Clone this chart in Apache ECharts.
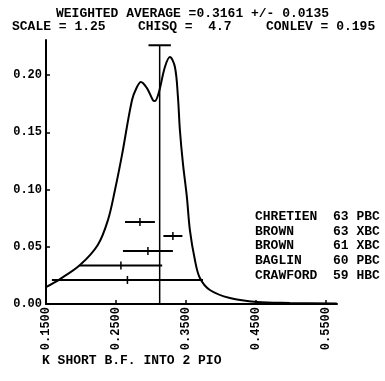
<!DOCTYPE html>
<html>
<head>
<meta charset="utf-8">
<script src="https://cdn.jsdelivr.net/npm/echarts@6/dist/echarts.min.js"></script>
<style>
  html, body { margin: 0; padding: 0; background: #fff; }
  #chart { width: 385px; height: 381px; }
</style>
</head>
<body>
<div id="chart"></div>
<script>
// ideogram curve: [branching fraction, density]
const ideogram = [
  [0.150, 0.0148], [0.170, 0.0218], [0.1986, 0.034], [0.224, 0.0515],
  [0.2386, 0.0734], [0.2486, 0.0996], [0.2586, 0.130], [0.2729, 0.178],
  [0.280, 0.1895], [0.2857, 0.194], [0.2943, 0.1886], [0.3029, 0.178],
  [0.3057, 0.1773], [0.3114, 0.185], [0.320, 0.207], [0.3271, 0.2157],
  [0.3343, 0.207], [0.3386, 0.181], [0.3414, 0.152], [0.3457, 0.123],
  [0.3514, 0.0934], [0.3557, 0.0646], [0.3629, 0.0384], [0.370, 0.0227],
  [0.3843, 0.0122], [0.4129, 0.0052], [0.4514, 0.0017], [0.4986, 0.0009],
  [0.5657, 0.0005]
];

// measurements: central value, half error, vertical slot
const expNames = ["CHRETIEN", "BROWN", "BROWN", "BAGLIN", "CRAWFORD"];
const expYears = ["63", "63", "61", "60", "59"];
const expTypes = ["PBC", "XBC", "XBC", "PBC", "HBC"];
const measValue = [0.2843, 0.3314, 0.2957, 0.2571, 0.2664];
const measError = [0.0214, 0.0136, 0.0357, 0.059, 0.108];
const measY = [0.0716, 0.0594, 0.0463, 0.0336, 0.021];

// weighted average marker
const avgX = 0.3125;
const avgTop = 0.226;
const avgHalf = 0.016;

const xTicks = [0.15, 0.25, 0.35, 0.45, 0.55];
const yTicks = [0, 0.05, 0.10, 0.15, 0.20];

const titleLine = "WEIGHTED AVERAGE =0.3161 +/- 0.0135";
const statsLine = ["SCALE = 1.25", "CHISQ =  4.7", "CONLEV = 0.195"];
const xName = "K SHORT B.F. INTO 2 PIO";

const FONT = '"Liberation Mono", "DejaVu Sans Mono", monospace';

const chart = echarts.init(document.getElementById("chart"), null, { renderer: "canvas" });

const measData = measValue.map((v, i) => [v, measY[i], measError[i]]);

const graphics = [
  { type: "text", left: "center", top: 7,
    style: { text: titleLine, font: "bold 13px " + FONT, fill: "#000" } },
  { type: "text", left: 12, top: 20,
    style: { text: statsLine[0], font: "bold 13px " + FONT, fill: "#000" } },
  { type: "text", left: 138, top: 20,
    style: { text: statsLine[1], font: "bold 13px " + FONT, fill: "#000" } },
  { type: "text", left: 266, top: 20,
    style: { text: statsLine[2], font: "bold 13px " + FONT, fill: "#000" } },
  { type: "text", left: 42, top: 354,
    style: { text: xName, font: "bold 13px " + FONT, fill: "#000" } }
];
expNames.forEach((name, i) => {
  graphics.push({
    type: "text", left: 255, top: 210 + i * 14.8,
    style: {
      text: name.padEnd(10, " ") + expYears[i] + " " + expTypes[i],
      font: "bold 13px " + FONT, fill: "#000"
    }
  });
});

const option = {
  animation: false,
  backgroundColor: "#fff",
  grid: { left: 46, right: 48, top: 40, bottom: 77 },
  xAxis: {
    type: "value",
    min: 0.15,
    max: 0.566,
    axisLine: { lineStyle: { color: "#000", width: 2 } },
    axisTick: { show: true, inside: true, length: 4, customValues: xTicks,
      lineStyle: { color: "#000", width: 1.5 } },
    axisLabel: {
      customValues: xTicks,
      rotate: 90,
      margin: 3,
      color: "#000",
      fontFamily: FONT,
      fontWeight: "bold",
      fontSize: 12,
      formatter: v => v.toFixed(4)
    },
    splitLine: { show: false }
  },
  yAxis: {
    type: "value",
    min: 0,
    max: 0.2306,
    axisLine: { show: true, lineStyle: { color: "#000", width: 2 } },
    axisTick: { show: true, inside: true, length: 4, customValues: yTicks,
      lineStyle: { color: "#000", width: 1.5 } },
    axisLabel: {
      customValues: yTicks,
      margin: 4,
      color: "#000",
      fontFamily: FONT,
      fontWeight: "bold",
      fontSize: 12,
      formatter: v => v.toFixed(2)
    },
    splitLine: { show: false }
  },
  graphic: graphics,
  series: [
    {
      type: "line",
      data: ideogram,
      smooth: 0.35,
      showSymbol: false,
      lineStyle: { color: "#000", width: 2 }
    },
    {
      type: "line",
      data: [[avgX, 0], [avgX, avgTop]],
      showSymbol: false,
      lineStyle: { color: "#000", width: 1.5 }
    },
    {
      type: "line",
      data: [[avgX - avgHalf, avgTop], [avgX + avgHalf, avgTop]],
      showSymbol: false,
      lineStyle: { color: "#000", width: 2 }
    },
    {
      type: "custom",
      data: measData,
      renderItem: (params, api) => {
        const v = api.value(0), y = api.value(1), e = api.value(2);
        const a = api.coord([v - e, y]);
        const b = api.coord([v + e, y]);
        const c = api.coord([v, y]);
        const st = { stroke: "#000", lineWidth: 2 };
        return {
          type: "group",
          children: [
            { type: "line", shape: { x1: a[0], y1: a[1], x2: b[0], y2: b[1] }, style: st },
            { type: "line", shape: { x1: c[0], y1: c[1] - 4, x2: c[0], y2: c[1] + 4 },
              style: { stroke: "#000", lineWidth: 1.5 } }
          ]
        };
      }
    }
  ]
};

chart.setOption(option);
</script>
</body>
</html>
